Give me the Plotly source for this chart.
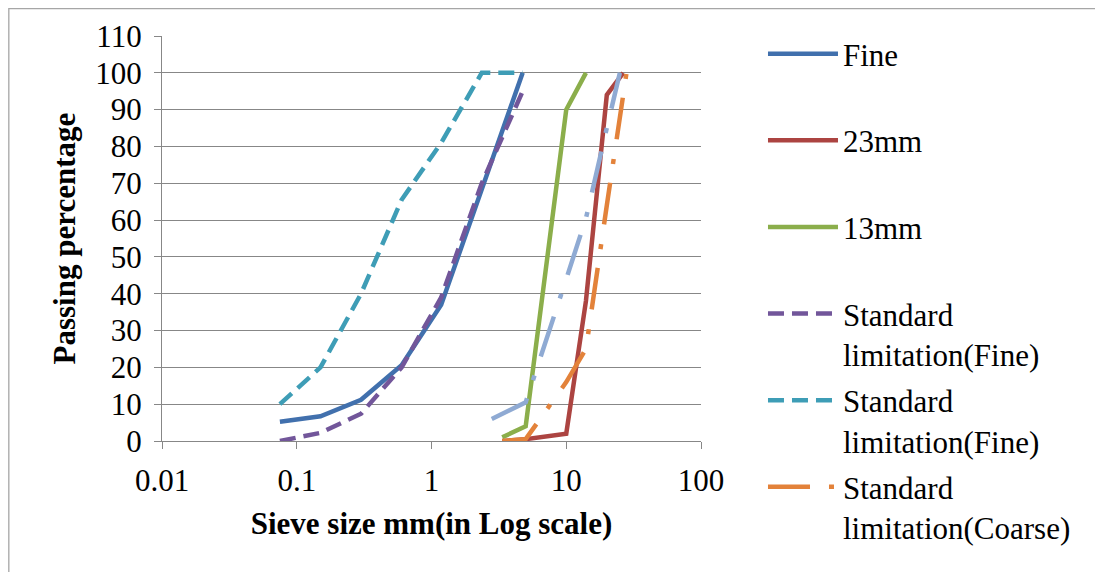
import plotly.graph_objects as go

# ---------------- data ----------------
sieve_fine = [0.075, 0.15, 0.3, 0.6, 1.18, 2.36, 4.75]
fine = [5.2, 6.7, 11.2, 20.6, 37, 68, 100]
std_fine_lower = [0, 2.2, 7.4, 20, 39, 70, 95]
std_fine_upper = [10, 20, 40, 65.5, 81, 100, 100]

sieve_23 = [3.35, 5, 10, 14, 20, 26.5]
agg_23mm = [0, 0.5, 2, 38, 94, 100]

sieve_13 = [3.35, 5, 10, 14]
agg_13mm = [1, 4, 90, 100]

sieve_coarse = [3.35, 5, 10, 14, 20, 28]
std_coarse = [0, 0.5, 16, 25, 64, 100]

sieve_coarse2 = [2.8, 5, 10, 14, 20, 25]
std_coarse2 = [6, 10.5, 44, 60.5, 85, 100]

x_tickvals = [0.01, 0.1, 1, 10, 100]
x_ticktext = ["0.01", "0.1", "1", "10", "100"]
y_tickvals = list(range(0, 111, 10))

FONT = "Liberation Serif"
FS = 31
GRID = "#878787"
LW = 4.5
DASH = "16px,8px"
DASHDOT = "42px,19px,5px,20px"

fig = go.Figure()

series = [
    ("Fine<br> ", sieve_fine, fine, "#4170AD", "solid", True),
    ("23mm<br> ", sieve_23, agg_23mm, "#AC4441", "solid", True),
    ("13mm<br> ", sieve_13, agg_13mm, "#8BAE4B", "solid", True),
    ("Standard<br>limitation(Fine)", sieve_fine, std_fine_lower, "#72569A", DASH, True),
    ("Standard<br>limitation(Fine)", sieve_fine, std_fine_upper, "#3E9DB6", DASH, True),
    ("Standard<br>limitation(Coarse)", sieve_coarse, std_coarse, "#E3823A", DASHDOT, True),
    ("Standard limitation(Coarse) upper", sieve_coarse2, std_coarse2, "#8FAAD3", DASHDOT, False),
]

for i, (name, xs, ys, color, dash, show) in enumerate(series):
    fig.add_trace(go.Scatter(
        x=xs, y=ys, mode="lines", name=name,
        line=dict(color=color, width=LW, dash=dash),
        legendgroup=f"g{i}", showlegend=show,
    ))

fig.update_layout(
    width=1103, height=572,
    margin=dict(l=154, r=410, t=28, b=139, pad=0, autoexpand=False),
    paper_bgcolor="white", plot_bgcolor="white",
    font=dict(family=FONT, size=FS, color="black"),
    showlegend=True,
    legend=dict(
        x=1.115, xanchor="left", y=1.022, yanchor="top",
        font=dict(family=FONT, size=FS, color="black"),
        tracegroupgap=3, valign="top", itemwidth=70,
        maxheight=560,
        bgcolor="rgba(0,0,0,0)",
    ),
    shapes=[dict(
        type="rect", xref="paper", yref="paper",
        x0=-0.2842, x1=1.80, y0=-0.40, y1=1.0676,
        line=dict(color="#A6A6A6", width=1.3), fillcolor="rgba(0,0,0,0)",
        layer="above",
    )],
    annotations=[dict(
        text="<b>Passing percentage</b>", textangle=-90,
        xref="paper", yref="paper", x=-0.18, y=0.5,
        xanchor="center", yanchor="middle", showarrow=False,
        font=dict(family=FONT, size=FS, color="black"),
    )],
)

fig.update_xaxes(
    type="log", range=[-2, 2], automargin=False,
    tickvals=x_tickvals, ticktext=x_ticktext,
    showgrid=False, zeroline=False,
    showline=True, linecolor=GRID, linewidth=1.3,
    ticks="outside", ticklen=7, tickcolor=GRID, tickwidth=1.3,
    tickfont=dict(family=FONT, size=FS, color="black"),
    ticklabelstandoff=5,
    title=dict(text="<b>Sieve size mm(in Log scale)</b>",
               font=dict(family=FONT, size=FS, color="black"), standoff=14),
)
fig.update_yaxes(
    range=[0, 110], tickvals=y_tickvals, automargin=False,
    showgrid=True, gridcolor=GRID, gridwidth=1.3, zeroline=False,
    showline=True, linecolor=GRID, linewidth=1.3,
    ticks="outside", ticklen=7, tickcolor=GRID, tickwidth=1.3,
    tickfont=dict(family=FONT, size=FS, color="black"),
    ticklabelstandoff=6,
)

fig.write_html("out.html")
